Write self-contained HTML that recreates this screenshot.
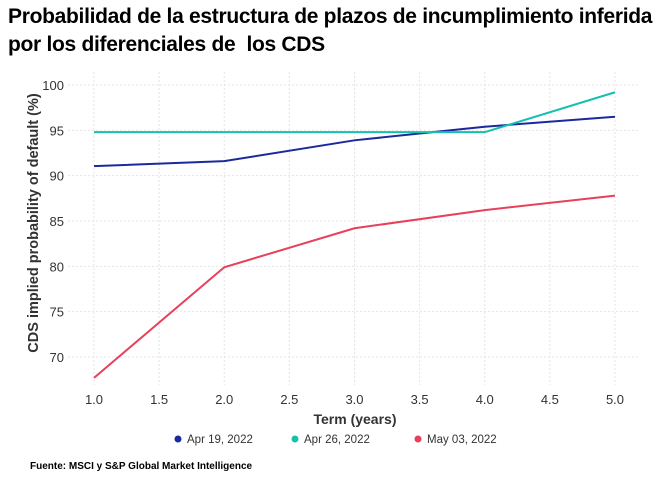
<!DOCTYPE html>
<html><head><meta charset="utf-8"><style>
body{margin:0;width:658px;height:485px;background:#fff;font-family:"Liberation Sans",sans-serif;overflow:hidden}
.t{position:absolute;left:8px;font-weight:bold;font-size:21px;color:#000;letter-spacing:-0.3px;white-space:nowrap}
</style></head><body>
<div class="t" style="top:5px">Probabilidad de la estructura de plazos de incumplimiento inferida</div>
<div class="t" style="top:33px">por los diferenciales de&nbsp; los CDS</div>
<svg id="c" width="658" height="485" style="position:absolute;left:0;top:0"></svg>
<div style="position:absolute;left:30px;top:461px;font-size:10px;font-weight:bold">Fuente: MSCI y S&amp;P Global Market Intelligence</div>
<script>
const terms=[1,2,3,4,5];
const apr19=[91.05,91.6,93.9,95.4,96.5];
const apr26=[94.8,94.8,94.8,94.8,99.2];
const may03=[67.7,79.9,84.2,86.2,87.8];
const seriesNames=["Apr 19, 2022","Apr 26, 2022","May 03, 2022"];
const xTicks=[1,1.5,2,2.5,3,3.5,4,4.5,5];
const yTicks=[70,75,80,85,90,95,100];
const colors=["#1a2a9c","#17bfae","#e8405a"];
const NS="http://www.w3.org/2000/svg",svg=document.getElementById('c');
const X=v=>94+(v-1)*(615-94)/4, Y=v=>85+(100-v)*(357-85)/30;
function mk(t,a,p){const e=document.createElementNS(NS,t);for(const k in a)e.setAttribute(k,a[k]);(p||svg).appendChild(e);return e;}
xTicks.forEach(v=>{
const g=mk('line',{x1:X(v),x2:X(v),y1:72,y2:385,stroke:'#e4e4e4','stroke-dasharray':'2,2'});


const t=mk('text',{x:X(v),y:404,'text-anchor':'middle','font-size':13,fill:'#333'});t.textContent=v.toFixed(1);


});
yTicks.forEach(v=>{
const g=mk('line',{x1:68,x2:640,y1:Y(v),y2:Y(v),stroke:'#e4e4e4','stroke-dasharray':'2,2'});


const t=mk('text',{x:64,y:Y(v)+5,'text-anchor':'end','font-size':13,fill:'#333'});t.textContent=v;


});
let yt=mk('text',{x:0,y:0,transform:'translate(38,223) rotate(-90)','text-anchor':'middle','font-size':14.5,'font-weight':'bold',fill:'#333'});yt.textContent='CDS implied probability of default (%)';


let xt=mk('text',{x:355,y:424,'text-anchor':'middle','font-size':14,'font-weight':'bold',fill:'#333'});xt.textContent='Term (years)';


[apr19,apr26,may03].forEach((s,i)=>{
const l=mk('polyline',{points:s.map((v,j)=>X(terms[j])+','+Y(v)).join(' '),fill:'none',stroke:colors[i],'stroke-width':2});


const lx=[178,295,418][i];
const d=mk('circle',{cx:lx,cy:439,r:3.5,fill:colors[i]});


const t=mk('text',{x:lx+9,y:443,'font-size':11.5,fill:'#333'});t.textContent=seriesNames[i];


});
</script>
</body></html>
